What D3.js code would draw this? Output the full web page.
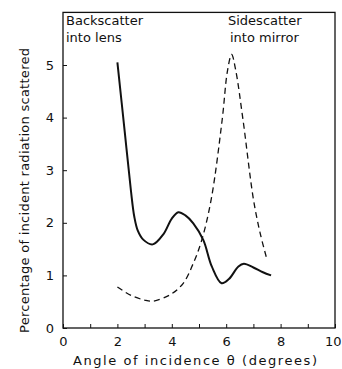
<!DOCTYPE html>
<html><head><meta charset="utf-8">
<script src="https://cdn.jsdelivr.net/npm/d3@7"></script>
<style>body{margin:0;background:#fff}svg{display:block}text{font-family:"DejaVu Sans",sans-serif;fill:#111}</style>
</head><body>
<script>
const backscatterX = [2.0,2.27,2.5,2.62,2.75,2.95,3.3,3.7,4.0,4.24,4.5,4.79,5.16,5.47,5.83,6.1,6.45,6.65,7.0,7.35,7.65];
const backscatterY = [5.05,3.73,2.6,2.12,1.85,1.68,1.59,1.79,2.08,2.2,2.14,1.99,1.67,1.17,0.85,0.93,1.17,1.22,1.15,1.06,1.0];
const sidescatterX = [2.0,2.5,3.0,3.3,3.93,4.42,4.79,5.1,5.45,5.85,6.05,6.2,6.35,6.62,7.0,7.25,7.5];
const sidescatterY = [0.78,0.62,0.53,0.51,0.63,0.85,1.23,1.67,2.45,3.95,4.9,5.2,4.9,3.95,2.45,1.8,1.3];
const xTicks = [0,1,2,3,4,5,6,7,8,9,10];
const xTickLabels = ["0","","2","","4","","6","","8","","10"];
const yTicks = [0,1,2,3,4,5];
const xTitle = "Angle of incidence \u03b8 (degrees)";
const yTitle = "Percentage of incident radiation scattered";

const W=342,H=369;
const svg=d3.select("body").append("svg").attr("width",W).attr("height",H);
const x=d3.scaleLinear().domain([0,10]).range([63,335]);
const y=d3.scaleLinear().domain([0,6]).range([328,12.4]);

// frame
svg.append("rect").attr("x",x(0)).attr("y",y(6)).attr("width",x(10)-x(0)).attr("height",y(0)-y(6))
  .attr("fill","none").attr("stroke","#111").attr("stroke-width",1.3);

const xa=svg.append("g").attr("transform",`translate(0,${y(0)})`)
  .call(d3.axisBottom(x).tickValues(xTicks).tickSize(-4).tickPadding(9).tickFormat((d,i)=>xTickLabels[i]));
const ya=svg.append("g").attr("transform",`translate(${x(0)},0)`)
  .call(d3.axisLeft(y).tickValues(yTicks).tickSize(-4).tickPadding(9).tickFormat(d3.format("d")));
[xa,ya].forEach(a=>{a.select(".domain").remove();a.selectAll("line").attr("stroke","#111").attr("stroke-width",1);
  a.selectAll("text").attr("font-size",13).style("font-family","DejaVu Sans").attr("fill","#111");});
// keep the last x label inside the picture
xa.selectAll(".tick text").filter(d=>d===10).attr("text-anchor","end").attr("dx",6);

const line=d3.line().x(d=>x(d[0])).y(d=>y(d[1])).curve(d3.curveCatmullRom.alpha(0.5));
svg.append("path").datum(backscatterX.map((v,i)=>[v,backscatterY[i]])).attr("d",line)
  .attr("fill","none").attr("stroke","#111").attr("stroke-width",2);
svg.append("path").datum(sidescatterX.map((v,i)=>[v,sidescatterY[i]])).attr("d",line)
  .attr("fill","none").attr("stroke","#111").attr("stroke-width",1.3).attr("stroke-dasharray","6,4");

// annotations
const ann=[["Backscatter",66,25],["into lens",66,42],["Sidescatter",228,25],["into mirror",230,42]];
svg.selectAll("text.ann").data(ann).enter().append("text").attr("class","ann")
  .attr("x",d=>d[1]).attr("y",d=>d[2]).attr("font-size",13).text(d=>d[0]);

svg.append("text").attr("x",73).attr("y",365).attr("font-size",13)
  .attr("textLength",244).attr("lengthAdjust","spacing").text(xTitle);
svg.append("text").attr("transform","translate(29,333) rotate(-90)").attr("font-size",13)
  .attr("textLength",285).attr("lengthAdjust","spacing").text(yTitle);
</script>
</body></html>
